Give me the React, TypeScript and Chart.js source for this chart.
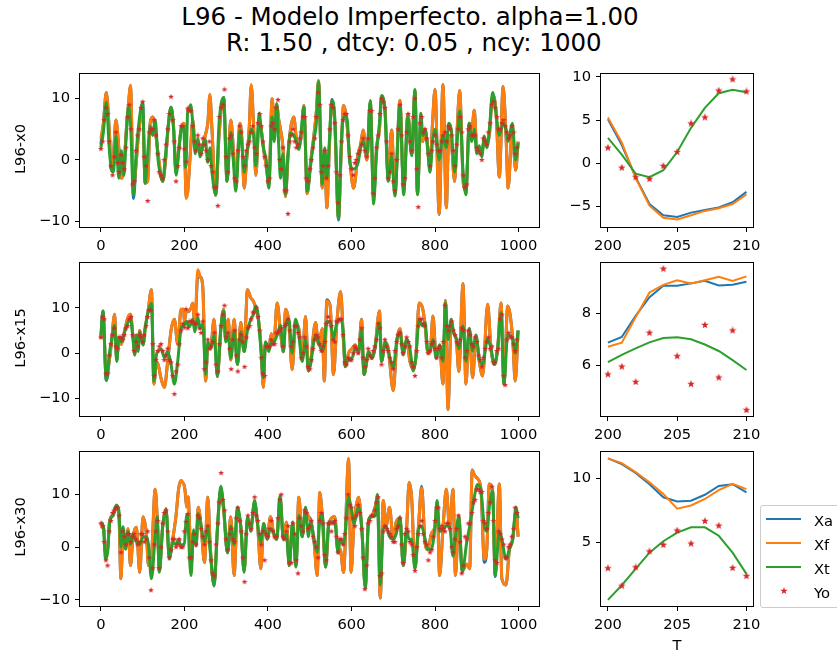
import React, { useEffect, useRef } from "react";
import { Chart, registerables } from "chart.js";

Chart.register(...registerables);

const FONT_FAMILY = "'DejaVu Sans', 'Liberation Sans', sans-serif";
const TICK_SIZE = 14.7;
const C_XA = "#1f77b4";
const C_XF = "#ff7f0e";
const C_XT = "#2ca02c";
const C_YO = "#d62728";

// ---------------- L96-x0 : full run ----------------
const t_x0 = [
  0, 6, 13, 20, 25, 30, 36, 43, 49, 55, 60, 66, 71, 78, 84, 90, 100, 106, 112, 118,
  124, 130, 137, 148, 155, 162, 168, 174, 180, 186, 192, 198, 200, 202, 204, 206, 208, 210, 215, 220,
  226, 232, 238, 244, 250, 256, 261, 266, 275, 283, 294, 302, 311, 317, 323, 333, 338, 343, 349, 355,
  360, 366, 371, 379, 385, 390, 396, 402, 410, 415, 421, 426, 430, 436, 442, 448, 454, 462, 468, 474,
  480, 486, 494, 502, 510, 516, 521, 530, 536, 541, 547, 553, 560, 569, 575, 581, 589, 596, 605, 616,
  622, 628, 637, 645, 653, 660, 667, 672, 680, 688, 696, 704, 716, 725, 735, 744, 752, 758, 766, 771,
  776, 782, 788, 794, 800, 810, 819, 827, 833, 839, 847, 853, 859, 868, 874, 882, 888, 894, 900, 906,
  912, 918, 924, 930, 938, 946, 954, 963, 970, 975, 985, 993, 999,
];
const xt_x0 = [
  2.0, 4.5, 9.4, 2.0, -1.5, -2.0, 3.9, -3.0, 1.5, -2.5, 3.0, 8.6, 6.0, -5.7, 0.5, 5.4, 9.3, -3.8, 1.0, 5.5,
  4.0, 6.5, 0.0, -3.5, 1.0, 6.0, 8.6, 5.0, -2.5, 1.0, 4.9, 5.5, 2.9, -1.2, -0.8, 4.1, 8.1, 8.2, 9.0, 6.0,
  1.0, 3.5, 0.5, 2.5, 3.3, -0.4, 2.0, -2.0, -5.7, 6.0, 10.2, -3.5, 4.5, 0.0, -5.1, 4.9, 2.0, -2.0, 1.0, 3.3,
  5.0, 4.0, -1.0, 7.6, 4.0, 1.7, 0.0, -4.6, 7.0, 3.0, 9.2, 2.0, -3.0, 1.0, -5.7, 1.0, 4.4, 4.0, 3.0, 1.7,
  5.0, 8.6, -5.1, -1.0, 3.3, 6.0, 12.8, -4.0, 2.0, -3.0, 3.0, 9.7, 7.0, -9.5, 2.0, 7.0, 7.0, -0.4, -1.5, -0.4,
  2.0, 3.0, 0.7, 9.7, -7.2, 1.2, 6.0, 10.5, 8.0, -3.5, 0.5, -5.9, 8.9, -5.7, 7.0, 0.7, 11.5, -5.7, 7.6, 4.0,
  4.9, 2.0, -2.0, 3.0, 5.0, 0.0, 4.0, 2.0, 6.0, 4.9, -2.0, 3.0, 8.0, -3.0, -5.7, 6.0, 3.0, 5.0, 1.0, 2.3,
  0.5, 3.9, 2.0, 4.9, 11.0, 7.6, 4.0, 6.0, 5.0, 3.0, 6.0, 0.0, 2.8,
];
const xf_x0 = [
  3.5, 6.0, 11.0, 5.0, -1.7, 0.5, 6.5, 2.0, -3.0, -2.0, 4.0, 9.0, 12.2, -4.5, -1.0, 4.0, 8.0, -3.8, -3.5, 6.0,
  7.0, 5.0, 1.0, -3.5, 0.0, 6.0, 8.6, 5.5, -2.0, 1.5, 4.9, 6.0, 5.3, -1.7, -6.3, -6.0, -5.2, -3.6, 2.0, 6.5,
  2.0, 3.0, 1.0, 2.0, 4.0, 6.0, 10.7, 5.0, -5.8, 4.0, 10.0, -3.5, 6.5, 2.0, -4.0, 6.0, 3.0, -4.6, 0.0, 5.0,
  12.3, 5.0, -2.5, 6.5, 4.5, 1.5, -1.0, -4.0, 10.0, 6.0, 9.0, 6.5, 5.0, 2.0, -6.0, 0.5, 5.0, 7.0, 3.5, 2.0,
  4.0, 8.9, -5.5, -0.5, 4.0, 8.0, 13.0, -4.6, 1.0, -7.8, 2.0, 9.5, 6.0, -9.5, 0.5, 8.9, 6.0, 0.0, -4.6, 1.0,
  2.5, 4.9, 0.0, 9.5, -6.0, 2.0, 5.0, 10.0, 8.5, -3.0, 4.9, -5.5, 9.7, -5.0, 7.5, 1.0, 11.3, -5.5, 6.0, 3.0,
  5.0, 2.5, -1.5, 6.0, 11.5, -8.8, 12.3, -7.8, 4.0, 3.0, -3.5, 5.0, 11.3, -4.0, -5.0, 6.0, 5.0, 8.1, 2.0, 2.0,
  1.0, 3.5, 2.5, 4.0, 10.5, 8.0, -2.8, 12.0, 4.0, -4.6, 5.0, -1.7, 3.0,
];
const xa_x0 = [
  2.5, 6.0, 11.0, 5.0, -1.7, 0.5, 6.5, 2.0, -3.0, -2.0, 4.0, 9.0, 12.0, -6.3, -1.0, 4.0, 9.3, -3.8, -3.5, 6.0,
  7.0, 5.0, 1.0, -3.5, 0.0, 6.0, 8.6, 5.5, -2.0, 1.5, 4.9, 6.0, 5.1, -1.6, -6.0, -5.7, -5.1, -3.3, 2.0, 6.5,
  2.0, 3.0, 1.0, 2.0, 4.0, 6.0, 10.5, 5.0, -5.8, 4.0, 10.2, -3.5, 6.5, 2.0, -4.0, 6.0, 3.0, -4.6, 0.0, 5.0,
  12.1, 5.0, -2.5, 6.5, 4.5, 1.5, -1.0, -4.0, 10.0, 6.0, 9.0, 6.5, 5.0, 2.0, -6.0, 0.5, 5.0, 7.0, 3.5, 2.0,
  4.0, 8.9, -5.5, -0.5, 4.0, 8.0, 12.8, -4.6, 1.0, -7.8, 2.0, 9.9, 6.0, -9.8, 0.5, 8.9, 6.0, 0.0, -4.6, 1.0,
  2.5, 4.9, 0.0, 9.5, -6.0, 2.0, 5.0, 10.0, 8.5, -3.0, 4.9, -5.5, 9.7, -5.0, 7.5, 1.0, 11.3, -5.5, 6.0, 3.0,
  5.0, 2.5, -1.5, 6.0, 11.5, -8.9, 12.3, -7.8, 4.0, 3.0, -3.5, 5.0, 11.3, -4.0, -5.0, 6.0, 5.0, 8.1, 2.0, 2.0,
  1.0, 3.5, 2.5, 4.0, 10.5, 8.0, -2.8, 12.0, 4.0, -4.6, 5.0, -1.7, 3.0,
];
// observations: series "a" at cycles 0, 8, 16, ... and series "b" at cycles 4, 12, 20, ...
const OBS_STEP = 8;
const OBS_OFFSET_B = 4;
const yo_x0 = [
  1.8, 6.5, 7.5, -1.0, 0.5, -0.5, 0.8, -1.5, 7.0, 5.0, -3.5, 4.0, 8.5, 0.5, -6.7, 5.0, 6.5, 1.0, -2.5, 0.0,
  5.0, 10.3, 3.0, -1.0, 5.5, 1.8, 8.4, 8.0, 3.0, 4.0, 1.0, 2.5, 0.0, -1.0, -4.5, -7.5, 8.5, 11.5, -2.0, 4.0,
  -3.0, 1.5, 4.5, -1.0, 2.5, 4.5, 2.0, 6.0, 5.5, 0.5, -3.5, 5.5, 5.0, 9.8, -1.5, -5.0, -8.8, 4.0, 3.0, 2.5,
  4.5, 7.0, -3.5, 0.0, 3.5, 11.0, -2.0, 1.5, -1.0, 9.0, 6.0, -7.0, 3.0, 7.5, 4.0, -1.5, -0.5, 1.0, 2.5, 1.5,
  3.5, 8.0, -3.0, 4.0, 10.0, 8.5, -3.0, 1.0, -5.0, 5.0, 4.0, -3.0, 7.5, 1.5, 10.0, -7.7, 7.0, 5.0, 1.0, 1.5,
  4.0, 1.5, 3.0, 4.5, 5.5, 4.0, -1.0, 5.0, 4.5, -4.5, 5.0, 4.0, 4.0, 1.5, 0.0, 3.0, 4.5, 9.0, 8.5, 5.0,
  6.0, 5.5, 3.5, 5.5, 1.0,
];
const yo_x0_b = [
  3.0, 8.5, 3.0, -2.5, 4.5, -2.0, -0.5, 2.0, 9.0, -4.0, 1.5, 5.0, 9.5, -1.0, 4.5, 5.0, 4.0, -2.0, -3.0, 2.5,
  7.5, 6.5, -3.5, 2.0, 5.5, -0.3, 8.0, 5.5, 1.5, 2.5, 3.5, 1.5, 3.0, -2.0, -4.5, 7.0, 9.0, 0.5, 3.5, 1.0,
  -3.5, 5.5, 0.5, 1.5, 3.0, 5.5, 1.0, 7.5, 3.0, -1.0, -3.0, 6.0, 8.5, 0.0, 2.0, -5.0, 3.0, 5.0, 2.0, 3.5,
  7.0, -3.0, -1.5, 2.0, 7.0, 9.0, -1.0, -3.0, 5.0, 8.5, -2.0, -2.5, 6.5, 7.5, 0.5, -2.5, 0.0, 1.5, 3.5, 0.5,
  8.0, -5.5, 2.0, 7.5, 9.5, 3.0, -2.0, -3.5, 0.0, 9.0, -4.0, 4.5, 3.0, 7.0, -1.5, 6.0, 4.5, 3.5, -1.0, 3.0,
  2.5, 1.5, 4.0, 3.0, 5.0, 1.5, 2.5, 7.0, -2.5, -4.0, 5.5, 4.0, 2.0, 1.0, 3.5, 2.5, 6.0, 9.5, 7.0, 5.0,
  6.5, 4.5, 4.0, 4.5, 2.0,
];

// ---------------- L96-x15 : full run ----------------
const t_x15 = [
  0, 5, 13, 21, 25, 33, 38, 43, 49, 57, 65, 71, 77, 81, 85, 89, 93, 101, 106, 113,
  121, 127, 133, 137, 144, 152, 160, 168, 176, 184, 192, 198, 200, 203, 206, 210, 216, 220, 225, 232,
  238, 244, 251, 256, 263, 271, 279, 287, 294, 299, 305, 311, 319, 327, 335, 343, 351, 359, 365, 371,
  375, 383, 389, 394, 402, 408, 414, 422, 430, 437, 442, 450, 458, 466, 474, 482, 490, 497, 502, 514,
  521, 530, 535, 541, 549, 557, 565, 574, 581, 585, 593, 601, 609, 617, 624, 630, 641, 649, 656, 667,
  672, 681, 688, 700, 709, 716, 724, 732, 740, 748, 754, 762, 770, 776, 783, 789, 795, 803, 811, 819,
  825, 831, 839, 844, 851, 857, 867, 874, 882, 890, 898, 906, 914, 926, 934, 942, 950, 958, 965, 974,
  986, 992, 999,
];
const xt_x15 = [
  3.9, 9.3, -6.0, 0.4, 2.5, 6.1, -1.8, 3.2, 2.5, 4.7, 6.8, 7.5, 3.2, -0.4, 3.9, 0.4, 4.7, 1.8, 5.4, 9.0,
  11.0, -6.1, -0.4, 0.4, 1.0, -1.0, 0.4, -2.5, -6.8, -1.8, 5.4, 6.1, 6.1, 6.9, 7.0, 5.8, 6.5, 7.5, 4.7, 7.9,
  5.4, 6.5, -4.7, 2.5, 1.0, 3.9, -5.0, 5.4, 9.3, 2.5, 4.0, -1.1, 4.7, -2.5, 4.7, 0.4, 5.0, 7.5, 8.5, 10.4,
  9.3, 1.0, -5.4, 2.5, 0.4, 2.5, 2.5, 4.0, 6.1, 0.4, 6.0, 7.5, 0.0, 7.5, 4.0, -1.8, 3.0, -3.9, -2.5, 4.0,
  2.5, 0.4, 2.0, 7.0, 6.8, 3.2, 6.8, 7.5, 4.0, -2.9, -1.1, -1.1, 1.0, 0.4, 5.0, -4.7, 0.4, -1.1, 1.0, 6.8,
  -1.8, 2.5, 0.4, -3.2, 3.2, 4.7, -0.4, 3.2, 1.0, -3.9, -1.1, 7.5, 6.0, 6.8, 0.4, 0.7, 3.0, -1.1, 1.8, -1.8,
  11.1, 3.0, 7.5, 4.7, 3.2, 1.0, 6.0, -1.8, 5.4, 0.5, 4.0, -1.1, -2.5, 3.2, 1.0, -2.5, 1.0, 9.0, -6.8, 4.0,
  3.2, 0.0, 5.0,
];
const xf_x15 = [
  3.2, 8.5, -5.0, -1.0, 2.0, 8.6, -1.5, 3.5, 2.0, 5.0, 7.9, 8.6, 3.5, 0.0, 4.0, 1.0, 5.0, 2.0, 5.5, 9.3,
  14.0, -6.8, -2.0, -2.5, -5.5, -7.5, -1.8, 5.0, 7.5, 2.0, 9.7, 9.7, 6.7, 8.8, 9.15, 9.4, 10.0, 11.0, 6.0, 18.4,
  16.8, 14.7, -6.1, 2.0, 1.5, 7.5, -5.0, 5.0, 9.7, 3.0, 7.5, -1.5, 7.5, -2.5, 6.8, 0.4, 14.0, 12.2, 11.5, 10.0,
  9.0, 2.0, -7.5, 2.0, 1.0, 4.3, 2.0, 11.1, 4.7, 0.4, 9.7, 7.0, -3.6, 6.5, 5.4, -1.5, 8.1, -3.9, -2.0, 6.8,
  2.0, 5.4, -6.1, 11.5, 10.4, -4.7, 6.8, 13.6, 2.5, -2.9, 0.0, 1.0, 1.8, 0.0, 7.5, -4.7, 0.0, -1.0, 1.0, 9.3,
  -1.8, 2.5, 1.0, -8.2, 3.0, 5.4, 0.0, 3.0, -1.8, -3.5, -1.0, 11.1, 10.0, 6.5, 0.0, 0.7, 8.2, -1.0, 1.8, -6.8,
  11.5, -12.4, 7.0, 4.7, 3.0, -4.0, 15.3, -6.8, 5.4, -5.4, 3.5, -1.8, -5.0, 10.8, 1.0, -2.5, 1.0, 11.1, -6.8, 10.4,
  3.2, -6.1, 5.0,
];
const xa_x15 = [
  3.2, 9.3, -6.0, -1.0, 2.0, 8.6, -1.5, 3.4, 2.0, 5.0, 7.9, 8.6, 3.5, 0.0, 4.0, 1.0, 5.0, 2.0, 5.5, 9.3,
  14.0, -6.8, -2.0, -2.5, -5.5, -7.5, -1.8, 5.0, 7.5, 2.0, 9.7, 9.7, 6.87, 8.62, 9.15, 9.21, 10.0, 11.0, 6.0, 16.8,
  16.8, 14.7, -6.1, 2.0, 1.5, 7.5, -5.2, 5.0, 9.7, 3.0, 7.5, -1.5, 7.5, -2.5, 6.8, 0.4, 14.0, 12.2, 11.5, 10.0,
  9.0, 2.0, -7.5, 2.5, 1.0, 4.3, 2.0, 11.1, 4.7, 0.3, 9.7, 7.0, -3.6, 6.5, 5.4, -1.5, 8.1, -3.9, -2.0, 6.8,
  2.0, 5.4, -6.1, 11.8, 10.4, -4.7, 6.8, 13.6, 2.5, -3.0, 0.0, 1.0, 1.8, 0.0, 7.5, -4.7, 0.0, -1.1, 1.0, 9.3,
  -1.8, 2.5, 1.0, -8.2, 3.0, 5.4, 0.0, 3.0, -1.8, -3.5, -1.0, 11.1, 10.0, 6.5, 0.0, 0.8, 8.2, -1.0, 1.8, -6.8,
  11.6, -12.4, 7.0, 4.7, 3.0, -4.0, 15.3, -6.8, 5.5, -5.4, 3.5, -1.8, -5.0, 10.8, 1.0, -2.5, 1.0, 11.1, -6.8, 10.4,
  3.2, -6.1, 5.0,
];
const yo_x15 = [
  3.5, 7.5, -4.5, 2.0, 5.5, 1.0, 3.5, 4.0, 6.0, 8.0, 0.5, 1.5, 3.5, 4.0, 8.0, 9.5, -5.0, 0.5, 2.0, -1.5,
  1.0, -2.0, -9.0, -2.5, 5.0, 5.65, 5.53, 7.0, 6.5, 8.5, 4.5, -3.5, 3.0, 1.5, 4.5, -4.0, 6.0, 10.5, 4.5, -3.5,
  5.0, -4.0, 4.0, -3.0, 5.5, 7.5, 9.0, 8.0, -1.0, -5.0, 1.5, 3.0, 2.0, 4.5, 5.5, 6.0, 7.5, 1.5, 6.0, 4.5,
  -1.0, 3.5, -3.0, -1.5, 3.0, 3.5, 0.5, 2.5, 8.0, 6.0, 2.5, 7.0, 7.5, -2.0, -1.0, -1.5, 1.5, 0.0, 5.5, -3.0,
  1.0, -1.0, 1.5, 6.5, -2.5, 3.0, 0.5, -2.0, 0.5, 4.0, 2.0, 1.5, 2.5, -2.0, -5.0, 6.0, 7.5, 6.0, 0.0, 2.0,
  1.0, 1.0, -1.0, 10.5, 5.0, 7.0, 4.0, 2.0, 5.5, -1.0, 5.0, 2.0, 3.5, -0.5, -3.0, 1.0, 3.5, 1.5, -2.0, 1.0,
  8.5, -7.0, 4.5, 3.5, 0.5,
];
const yo_x15_b = [
  8.0, -4.5, -0.5, 4.0, 1.5, 3.5, 3.0, 5.5, 7.5, 4.0, 2.5, 4.0, 2.5, 6.0, 9.5, 2.0, -1.5, 1.5, 0.5, -0.5,
  -1.5, -5.0, -4.0, 2.0, 6.5, 9.71, 7.0, 7.0, 6.5, 5.5, 7.0, -2.0, 1.0, 2.5, -2.5, 2.0, 8.5, 3.5, 1.0, 3.0,
  -0.5, 3.0, 2.5, 3.5, 6.0, 9.0, 10.0, 5.0, -4.5, 1.5, 1.5, 2.0, 4.5, 5.0, 1.5, 6.5, 5.0, 2.5, 6.0, 3.5,
  0.0, 1.5, -3.5, 1.0, 4.0, 2.0, 1.5, 6.5, 7.0, 3.0, 7.0, 7.5, 4.0, -2.5, -1.5, 0.0, 1.0, 3.0, -1.0, -1.5,
  -0.5, 0.5, 3.0, 5.5, 0.5, 1.5, -1.0, -3.5, 2.5, 4.5, 0.0, 3.5, 1.5, -3.0, 0.5, 7.5, 6.5, 2.5, 0.5, 2.5,
  -1.0, 1.5, 2.5, 6.0, 6.0, 5.0, 2.5, 3.0, 5.0, 0.5, 4.0, 1.5, 2.5, -1.5, -1.0, 2.5, 1.0, -2.0, 0.5, 7.5,
  -5.0, 3.0, 3.5, 2.0, 3.0,
];

// ---------------- L96-x30 : full run ----------------
const t_x30 = [
  0, 6, 11, 16, 21, 29, 37, 43, 48, 53, 59, 65, 71, 77, 85, 93, 101, 109, 114, 121,
  130, 135, 140, 148, 156, 164, 172, 180, 186, 192, 196, 200, 202, 204, 205, 207, 209, 210, 212, 216,
  222, 228, 233, 240, 248, 256, 262, 271, 279, 287, 294, 303, 311, 319, 327, 335, 343, 351, 359, 368,
  375, 383, 390, 398, 406, 414, 421, 429, 437, 444, 451, 459, 467, 474, 482, 490, 497, 502, 510, 518,
  524, 530, 538, 546, 560, 568, 573, 581, 593, 599, 606, 617, 625, 633, 641, 649, 657, 662, 669, 676,
  683, 691, 700, 707, 716, 724, 732, 738, 744, 752, 760, 768, 776, 783, 791, 800, 805, 811, 819, 827,
  835, 843, 849, 857, 865, 876, 883, 889, 894, 902, 910, 918, 924, 930, 938, 944, 954, 960, 970, 978,
  986, 994, 999,
];
const xt_x30 = [
  4.8, 3.9, -2.3, -1.1, 4.5, 6.1, 8.0, 7.0, 0.0, 3.9, -0.4, 3.0, 0.5, 2.5, 1.0, 0.5, 2.0, 2.0, 0.5, -6.0,
  2.0, 5.8, -4.8, 3.9, 7.3, -2.3, 1.0, 0.5, 1.5, 0.0, 0.5, 0.5, 2.9, 5.1, 5.8, 6.2, 4.2, 2.6, -1.5, -5.4,
  3.3, 0.2, 6.4, 3.9, 1.0, 3.9, -1.1, -7.2, 3.3, 11.6, 7.6, -1.1, 4.0, 0.5, 7.6, 3.9, -4.8, 5.8, 3.0, 8.9,
  4.5, 1.0, 4.5, 1.5, 3.5, 2.7, 1.5, 9.8, 1.5, 2.5, -3.5, 4.8, -3.8, 6.0, 2.0, 7.6, 2.0, 4.8, 1.5, -1.0,
  5.0, 6.4, -3.8, 4.8, 4.8, -1.1, 1.5, 0.5, 9.5, 7.6, 4.5, 7.6, 3.3, -7.9, 5.2, 5.8, 6.0, 10.0, -7.2, 3.5,
  3.9, 2.0, 1.5, 2.5, 5.8, -3.5, 3.3, 1.5, 1.5, -4.1, 3.3, 4.0, 1.5, -0.4, -0.4, 3.9, 8.9, 3.0, 3.3, 4.0,
  3.9, -1.7, 2.0, 5.8, -4.8, 1.0, 4.0, 7.0, 9.5, 11.9, 10.7, 4.0, 3.0, 7.6, 10.7, -5.4, 3.0, 1.5, -2.3, -0.4,
  1.5, 7.6, 5.5,
];
const xf_x30 = [
  3.6, 4.0, -1.0, -0.5, 5.1, 6.0, 7.5, 6.5, -6.0, 2.0, 0.5, 3.5, -3.5, 2.0, 3.8, -4.8, 5.8, 2.5, -3.5, -2.0,
  11.0, 5.5, -4.5, 4.0, 7.0, -2.0, 1.5, 6.0, 11.0, 12.7, 12.3, 11.6, 10.5, 8.8, 7.6, 8.4, 9.6, 9.2, 5.0, -3.5,
  3.0, 0.5, 7.6, 4.0, -2.9, 9.5, 0.0, -7.2, 3.5, 11.0, 7.0, -1.0, 5.8, -5.4, 7.0, 4.0, -4.5, 5.5, 3.9, 8.5,
  4.5, -4.1, 4.5, 1.5, 5.8, 2.5, 1.5, 9.5, 1.5, 4.8, -3.5, 4.5, -3.5, 9.5, 2.0, 7.0, 5.8, 5.0, 1.5, -5.4,
  10.4, 6.0, -3.8, 4.5, 5.8, -1.0, -0.4, -4.8, 16.9, -4.8, 4.5, 9.5, 3.0, -7.5, 5.0, 6.0, 7.6, 9.5, -9.7, 8.9,
  4.0, 7.6, 1.5, 4.8, 5.5, -3.5, 3.5, 12.3, 9.5, -4.0, 3.5, 11.3, 1.0, -0.5, 2.5, 4.0, 8.5, -5.4, 3.5, 11.0,
  3.5, 11.0, -5.4, 6.0, -4.5, -3.2, -4.1, 14.7, 13.8, 13.0, 11.0, -2.3, -0.4, 12.0, 10.5, -5.0, 12.0, -6.0, -7.2, -0.5,
  1.5, 7.0, 2.0,
];
const xa_x30 = [
  4.0, 4.0, -1.0, -0.5, 5.1, 6.0, 7.5, 6.5, -6.0, 2.0, 0.5, 3.5, -3.5, 2.0, 3.8, -4.8, 5.8, 2.5, -3.5, -2.0,
  11.0, 5.5, -4.5, 4.0, 7.0, -2.0, 1.5, 6.0, 11.0, 12.7, 12.3, 11.57, 10.4, 8.5, 8.2, 8.7, 9.55, 8.9, 5.0, -3.5,
  3.0, 0.5, 7.6, 4.0, -2.9, 9.5, 0.0, -7.4, 3.5, 11.0, 7.0, -1.0, 5.8, -5.4, 7.0, 4.0, -4.5, 5.5, 3.9, 8.5,
  4.5, -4.1, 4.5, 1.5, 5.8, 2.5, 1.5, 9.5, 1.5, 4.8, -3.5, 4.5, -3.5, 9.5, 2.0, 7.0, 5.8, 5.3, 1.5, -5.4,
  10.4, 6.0, -3.8, 4.5, 5.8, -1.0, -0.4, -4.8, 16.6, -4.8, 4.5, 9.5, 3.0, -7.5, 5.0, 6.0, 7.8, 9.5, -9.7, 8.9,
  4.0, 7.6, 1.5, 4.8, 5.5, -3.5, 3.5, 12.3, 9.5, -4.0, 3.5, 11.6, 1.0, -0.5, 2.5, 4.0, 8.5, -5.4, 3.5, 11.0,
  3.5, 11.0, -5.4, 6.0, -4.5, -3.3, -4.1, 14.7, 13.8, 13.0, 11.0, -2.9, -0.4, 12.0, 10.5, -5.6, 12.0, -6.0, -7.2, -0.5,
  1.5, 7.0, 2.0,
];
const yo_x30 = [
  4.5, 1.0, -3.5, 5.0, 7.0, 7.5, -1.0, 2.0, 2.5, 1.0, 2.5, 0.5, 2.5, 1.0, 3.0, -8.2, 0.5, 5.0, 0.0, 6.5,
  3.0, -0.5, 1.5, 0.5, 0.0, 3.0, 6.3, -2.0, 2.5, 6.0, 3.5, 0.5, 4.0, -2.5, -5.5, 4.5, 14.1, 7.0, -0.5, 3.5,
  1.0, 7.5, 3.0, -6.6, 6.0, 3.5, 9.5, 5.0, 0.5, -2.5, 2.0, 5.0, 2.0, 5.5, 10.0, 1.5, 4.0, -3.0, 2.5, -5.0,
  4.0, 7.0, 3.5, 5.0, 1.0, -2.0, 6.5, -1.5, 4.5, 3.0, 5.0, -1.0, 1.5, 2.5, 10.0, 7.5, 4.0, 8.0, 3.5, -8.0,
  4.5, 6.0, 7.0, 9.5, -5.0, 4.0, 3.0, 2.0, 1.0, 4.0, 0.5, 2.5, 3.0, 0.5, -4.5, 2.5, 5.0, 1.0, -2.5, -0.5,
  5.0, 7.5, 4.0, 3.0, 4.5, 0.0, 1.5, 6.0, -5.0, 2.0, 4.5, 6.5, 9.0, 11.0, 10.5, 4.5, 6.5, 11.5, -2.5, 3.0,
  1.5, -2.0, 0.0, 2.0, 7.5,
];
const yo_x30_b = [
  4.0, -2.5, 3.0, 6.5, 7.5, 6.0, 3.0, 0.5, 2.5, 2.0, 1.5, 1.0, 2.5, 1.5, -2.0, -4.0, 3.0, -4.0, 4.5, 7.0,
  -2.0, 1.5, 0.0, 1.5, 0.0, 4.82, -2.0, 1.0, 0.5, 5.5, 2.0, 3.0, 1.0, -5.0, 0.5, 8.5, 9.0, 1.5, 2.5, 1.5,
  5.5, 5.0, -2.0, 2.5, 4.5, 6.5, 6.0, 2.5, 3.0, 2.5, 3.5, 3.0, 2.0, 9.0, 2.0, 3.0, -3.0, 4.5, -2.5, 5.5,
  3.0, 6.5, 4.0, 2.0, 0.0, 5.0, 4.5, -2.5, 4.5, 4.5, 2.0, 1.5, 0.5, 5.5, 8.0, 5.5, 6.0, 6.5, -2.0, -3.5,
  5.0, 6.0, 8.5, -5.5, 3.0, 3.5, 2.5, 1.0, 3.5, 5.5, -3.0, 3.5, 1.0, -1.5, 0.0, 4.0, 2.5, 0.5, -1.0, 2.0,
  7.5, 3.5, 3.5, 4.5, 3.5, -1.0, 3.5, 1.0, -3.5, 1.5, 4.5, 8.5, 11.0, 10.5, 5.0, 3.5, 8.5, 5.0, -3.0, 2.5,
  0.5, -2.0, 0.5, 3.5, 6.5,
];

// ---------------- zoom window T = 200..210 ----------------
const t_zoom = [200, 201, 202, 203, 204, 205, 206, 207, 208, 209, 210];
const xa_x0_zoom = [5.1, 2.1, -1.6, -4.7, -6.0, -6.2, -5.7, -5.4, -5.1, -4.5, -3.3];
const xf_x0_zoom = [5.3, 2.4, -1.7, -4.9, -6.3, -6.5, -6.0, -5.5, -5.2, -4.7, -3.6];
const xt_x0_zoom = [2.93, 1.0, -1.2, -1.6, -0.8, 1.3, 4.1, 6.4, 8.1, 8.5, 8.2];
const yo_x0_zoom = [1.8, -0.5, -1.6, -1.8, -0.3, 1.3, 4.6, 5.3, 8.4, 9.7, 8.3];

const xa_x15_zoom = [6.87, 7.09, 7.9, 8.62, 9.06, 9.06, 9.15, 9.25, 9.07, 9.1, 9.21];
const xf_x15_zoom = [6.71, 6.87, 7.85, 8.8, 9.09, 9.27, 9.15, 9.27, 9.4, 9.24, 9.42];
const xt_x15_zoom = [6.12, 6.4, 6.65, 6.88, 7.05, 7.08, 7.0, 6.8, 6.55, 6.2, 5.82];
const yo_x15_zoom = [5.65, 5.95, 5.36, 7.25, 9.71, 6.35, 5.28, 7.55, 5.53, 7.34, 4.28];

const xa_x30_zoom = [11.57, 11.12, 10.43, 9.55, 8.53, 8.2, 8.27, 8.73, 9.42, 9.55, 8.91];
const xf_x30_zoom = [11.57, 11.2, 10.5, 9.7, 8.8, 7.64, 7.89, 8.4, 9.09, 9.59, 9.17];
const xt_x30_zoom = [0.53, 1.67, 2.94, 4.21, 5.1, 5.78, 6.19, 6.19, 5.53, 4.21, 2.56];
const yo_x30_zoom = [3.0, 1.63, 3.07, 4.31, 4.82, 5.94, 4.92, 6.68, 6.32, 3.02, 2.39];

// ---------------- axes ticks / labels ----------------
const longXTicks = [0, 200, 400, 600, 800, 1000];
const zoomXTicks = [200, 205, 210];
const longYTicks = [-10, 0, 10];
const zoomYTicks_x0 = [-5, 0, 5, 10];
const zoomYTicks_x15 = [6, 8];
const zoomYTicks_x30 = [5, 10];
const yLabels = ["L96-x0", "L96-x15", "L96-x30"];
const legendLabels = ["Xa", "Xf", "Xt", "Yo"];

// ---------------- helpers ----------------
const YW = 70; // y axis width
const XH = 30; // x axis height
const PT = 10; // top padding
const PR = 12; // right padding

function pts(ts: number[], vs: number[]) {
  return ts.map((t, i) => ({ x: t, y: vs[i] }));
}
function obsPts(vs: number[], offset: number) {
  return vs.map((v, i) => ({ x: offset + i * OBS_STEP, y: v }));
}
function starCanvas(size: number, color: string) {
  const c = document.createElement("canvas");
  c.width = size;
  c.height = size;
  const ctx = c.getContext("2d")!;
  const cx = size / 2, cy = size / 2, R = size / 2, r = R * 0.42;
  ctx.beginPath();
  for (let i = 0; i < 10; i++) {
    const rad = i % 2 === 0 ? R : r;
    const a = -Math.PI / 2 + (i * Math.PI) / 5;
    ctx.lineTo(cx + rad * Math.cos(a), cy + rad * Math.sin(a));
  }
  ctx.closePath();
  ctx.fillStyle = color;
  ctx.fill();
  return c;
}
const fmt = (v: number) => (v < 0 ? "\u2212" + Math.abs(v) : String(v));

const framePlugin = {
  id: "frame",
  afterDraw(chart: any) {
    const { ctx, chartArea: a } = chart;
    ctx.save();
    ctx.strokeStyle = "#000";
    ctx.lineWidth = 1;
    ctx.strokeRect(Math.round(a.left) - 0.5, Math.round(a.top) - 0.5, Math.round(a.right - a.left) + 1, Math.round(a.bottom - a.top) + 1);
    ctx.restore();
  },
};

type Spec = {
  box: [number, number, number, number];
  xr: [number, number];
  yr: [number, number];
  xTicks: number[];
  yTicks: number[];
  kind: "long" | "zoom";
  ts: number[];
  xa: number[];
  xf: number[];
  xt: number[];
  yo: number[];
  yoB?: number[];
};

function axis(min: number, max: number, ticks: number[], horizontal: boolean) {
  return {
    type: "linear" as const,
    min,
    max,
    afterBuildTicks: (ax: any) => {
      ax.ticks = ticks.map((v) => ({ value: v }));
    },
    afterFit: (ax: any) => {
      if (horizontal) ax.height = XH;
      else ax.width = YW;
    },
    grid: { display: true, drawOnChartArea: false, drawTicks: true, tickLength: 5, color: "#000", lineWidth: 1 },
    border: { display: false },
    ticks: {
      autoSkip: false,
      maxRotation: 0,
      padding: 5,
      color: "#000",
      font: { family: FONT_FAMILY, size: TICK_SIZE },
      callback: (v: any) => fmt(Number(v)),
    },
  };
}

function Panel({ spec }: { spec: Spec }) {
  const ref = useRef<HTMLCanvasElement>(null);
  const [x0, y0, x1, y1] = spec.box;
  const W = x1 - x0 + YW + PR;
  const H = y1 - y0 + PT + XH;
  useEffect(() => {
    const long = spec.kind === "long";
    const lw = long ? 3 : 2;
    const star = long ? starCanvas(6, C_YO) : starCanvas(8, C_YO);
    const lineDs = (label: string, vals: number[], color: string, order: number) => ({
      label,
      data: pts(spec.ts, vals),
      borderColor: color,
      backgroundColor: color,
      borderWidth: lw,
      pointRadius: 0,
      fill: false,
      tension: long ? 0.4 : 0,
      cubicInterpolationMode: long ? ("monotone" as const) : ("default" as const),
      order,
    });
    const obsData = long
      ? [...obsPts(spec.yo, 0), ...obsPts(spec.yoB || [], OBS_OFFSET_B)].sort((a, b) => a.x - b.x)
      : pts(spec.ts, spec.yo);
    const chart = new Chart(ref.current!, {
      type: "line",
      data: {
        datasets: [
          {
            label: "Yo",
            data: obsData,
            showLine: false,
            pointStyle: star as any,
            pointRadius: long ? 3 : 4,
            borderColor: C_YO,
            backgroundColor: C_YO,
            order: 0,
          } as any,
          lineDs("Xt", spec.xt, C_XT, 1),
          lineDs("Xf", spec.xf, C_XF, 2),
          lineDs("Xa", spec.xa, C_XA, 3),
        ],
      },
      options: {
        animation: false,
        responsive: false,
        devicePixelRatio: 1,
        events: [],
        layout: { padding: { top: PT, right: PR, left: 0, bottom: 0 } },
        plugins: { legend: { display: false }, tooltip: { enabled: false }, title: { display: false } },
        scales: {
          x: axis(spec.xr[0], spec.xr[1], spec.xTicks, true) as any,
          y: axis(spec.yr[0], spec.yr[1], spec.yTicks, false) as any,
        },
      },
      plugins: [framePlugin],
    });
    return () => chart.destroy();
  }, []);
  return (
    <canvas
      ref={ref}
      width={W}
      height={H}
      style={{ position: "absolute", left: x0 - YW, top: y0 - PT, width: W, height: H }}
    />
  );
}

const LX0 = 80, LX1 = 539, RX0 = 601, RX1 = 754;
const ROWS: [number, number][] = [
  [70, 227],
  [259, 416],
  [448, 606],
];

const specs: Spec[] = [
  { box: [LX0, ROWS[0][0], LX1, ROWS[0][1]], xr: [-49.95, 1048.95], yr: [-10.95, 14.05], xTicks: longXTicks, yTicks: longYTicks, kind: "long", ts: t_x0, xa: xa_x0, xf: xf_x0, xt: xt_x0, yo: yo_x0, yoB: yo_x0_b },
  { box: [RX0, ROWS[0][0], RX1, ROWS[0][1]], xr: [199.5, 210.5], yr: [-7.36, 10.34], xTicks: zoomXTicks, yTicks: zoomYTicks_x0, kind: "zoom", ts: t_zoom, xa: xa_x0_zoom, xf: xf_x0_zoom, xt: xt_x0_zoom, yo: yo_x0_zoom },
  { box: [LX0, ROWS[1][0], LX1, ROWS[1][1]], xr: [-49.95, 1048.95], yr: [-13.83, 19.93], xTicks: longXTicks, yTicks: longYTicks, kind: "long", ts: t_x15, xa: xa_x15, xf: xf_x15, xt: xt_x15, yo: yo_x15, yoB: yo_x15_b },
  { box: [RX0, ROWS[1][0], RX1, ROWS[1][1]], xr: [199.5, 210.5], yr: [4.05, 9.94], xTicks: zoomXTicks, yTicks: zoomYTicks_x15, kind: "zoom", ts: t_zoom, xa: xa_x15_zoom, xf: xf_x15_zoom, xt: xt_x15_zoom, yo: yo_x15_zoom },
  { box: [LX0, ROWS[2][0], LX1, ROWS[2][1]], xr: [-49.95, 1048.95], yr: [-11.2, 18.14], xTicks: longXTicks, yTicks: longYTicks, kind: "long", ts: t_x30, xa: xa_x30, xf: xf_x30, xt: xt_x30, yo: yo_x30, yoB: yo_x30_b },
  { box: [RX0, ROWS[2][0], RX1, ROWS[2][1]], xr: [199.5, 210.5], yr: [0.05, 12.08], xTicks: zoomXTicks, yTicks: zoomYTicks_x30, kind: "zoom", ts: t_zoom, xa: xa_x30_zoom, xf: xf_x30_zoom, xt: xt_x30_zoom, yo: yo_x30_zoom },
];

const textBase: React.CSSProperties = {
  position: "absolute",
  fontFamily: FONT_FAMILY,
  color: "#000",
  lineHeight: 1,
  whiteSpace: "pre",
};

export default function App() {
  const legendColors = [C_XA, C_XF, C_XT];
  return (
    <div style={{ position: "absolute", left: 0, top: 0, width: 837, height: 656, overflow: "hidden", background: "#fff" }}>
      <div style={{ ...textBase, left: 0, width: 820, textAlign: "center", top: 5.3, fontSize: 24.5 }}>
        L96 - Modelo Imperfecto. alpha=1.00
      </div>
      <div style={{ ...textBase, left: 0, width: 820, textAlign: "center", top: 31, fontSize: 24.5 }}>
        {" R: 1.50 , dtcy: 0.05 , ncy: 1000"}
      </div>
      {specs.map((s, i) => (
        <Panel key={i} spec={s} />
      ))}
      {yLabels.map((lab, i) => (
        <div
          key={lab}
          style={{
            ...textBase,
            fontSize: TICK_SIZE,
            left: 19.5,
            top: (ROWS[i][0] + ROWS[i][1]) / 2,
            transform: "translate(-50%, -50%) rotate(-90deg)",
          }}
        >
          {lab}
        </div>
      ))}
      <div style={{ ...textBase, fontSize: TICK_SIZE, left: 677, top: 638, transform: "translateX(-50%)" }}>T</div>
      <div
        style={{
          position: "absolute",
          left: 760,
          top: 505,
          width: 90,
          height: 101,
          border: "1px solid #cccccc",
          borderRadius: 3,
          background: "rgba(255,255,255,0.8)",
        }}
      />
      {legendLabels.map((lab, i) => (
        <React.Fragment key={lab}>
          {i < 3 ? (
            <div style={{ position: "absolute", left: 766, top: 518 + i * 24, width: 35, height: 2, background: legendColors[i] }} />
          ) : (
            <svg style={{ position: "absolute", left: 780, top: 587 }} width={8} height={8} viewBox="0 0 10 10">
              <polygon
                fill={C_YO}
                points="5,0 6.12,3.46 9.76,3.46 6.82,5.59 7.94,9.05 5,6.91 2.06,9.05 3.18,5.59 0.24,3.46 3.88,3.46"
              />
            </svg>
          )}
          <div style={{ ...textBase, fontSize: TICK_SIZE, left: 814, top: 513.6 + i * 24 }}>{lab}</div>
        </React.Fragment>
      ))}
    </div>
  );
}
